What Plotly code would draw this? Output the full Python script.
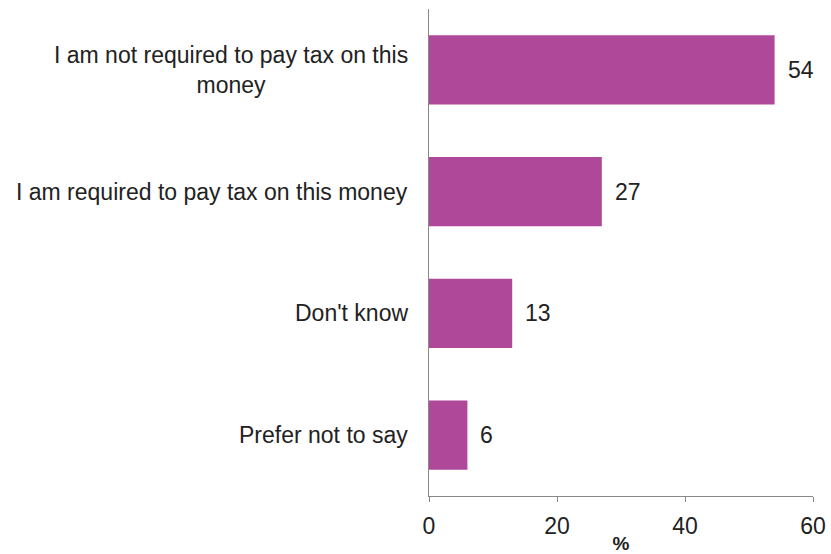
import plotly.graph_objects as go

categories = [
    "I am not required to pay tax on this<br>money",
    "I am required to pay tax on this money",
    "Don't know",
    "Prefer not to say",
]
values = [54, 27, 13, 6]
x_ticks = [0, 20, 40, 60]

BAR_COLOR = "#B0489A"
TEXT_COLOR = "#222222"
FONT = "Liberation Sans, Arial, sans-serif"
LABEL_SIZE = 23

fig = go.Figure()
fig.add_trace(go.Bar(
    x=values,
    y=categories,
    orientation="h",
    marker=dict(color=BAR_COLOR, line=dict(width=0)),
    width=0.57,
    hoverinfo="x+y",
))

# value labels to the right of each bar
for cat, val in zip(categories, values):
    fig.add_annotation(
        x=val, y=cat, xref="x", yref="y",
        text=str(val), showarrow=False,
        xanchor="left", xshift=11,
        font=dict(family=FONT, size=LABEL_SIZE, color=TEXT_COLOR),
    )

# category labels: wrapped lines centred, block right-aligned to the axis
for cat in categories:
    fig.add_annotation(
        x=0, y=cat, xref="paper", yref="y",
        text=cat, showarrow=False,
        xanchor="right", xshift=-19, align="center",
        font=dict(family=FONT, size=LABEL_SIZE, color=TEXT_COLOR),
    )

fig.update_layout(
    width=831,
    height=554,
    margin=dict(l=429, r=18, t=9, b=58),
    paper_bgcolor="white",
    plot_bgcolor="white",
    showlegend=False,
    font=dict(family=FONT, size=LABEL_SIZE, color=TEXT_COLOR),
    bargap=0.43,
)

fig.update_xaxes(
    range=[0, 60],
    tickvals=x_ticks,
    ticks="outside",
    ticklen=5,
    tickcolor="#888888",
    showline=True,
    linecolor="#888888",
    linewidth=1,
    showgrid=False,
    zeroline=False,
    automargin=False,
    ticklabelstandoff=4,
    tickfont=dict(family=FONT, size=LABEL_SIZE, color=TEXT_COLOR),
    title=dict(text="<b>%</b>", font=dict(family=FONT, size=19, color=TEXT_COLOR), standoff=6),
)

fig.update_yaxes(
    categoryorder="array",
    categoryarray=categories[::-1],
    range=[-0.5, 3.5],
    showticklabels=False,
    ticks="",
    showline=True,
    linecolor="#888888",
    linewidth=1,
    showgrid=False,
    zeroline=False,
    automargin=False,
)

fig.write_html("out.html")
